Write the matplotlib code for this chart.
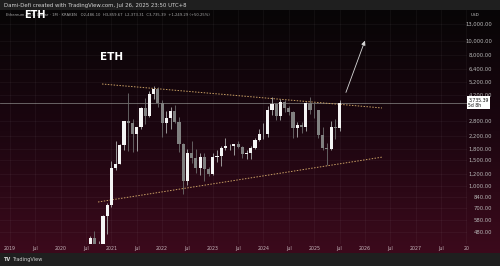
import numpy as np
import pandas as pd
import matplotlib
matplotlib.use("Agg")
import matplotlib.pyplot as plt
from matplotlib.colors import LinearSegmentedColormap
from matplotlib.ticker import NullLocator
from matplotlib.transforms import blended_transform_factory

# ETH / USD monthly candles (Kraken), Aug 2020 - Jul 2025
months = pd.period_range("2020-08", "2025-07", freq="M")
opens = [345, 434, 360, 386, 614, 737, 1314, 1416, 1918, 2773, 2707, 2275,
         2536, 3433, 3001, 4288, 4631, 3682, 2688, 2921, 3282, 2727, 1942, 1067,
         1678, 1553, 1328, 1572, 1295, 1196, 1585, 1605, 1821, 1870, 1874, 1934,
         1856, 1645, 1671, 1815, 2052, 2282, 2283, 3340, 3647, 3014, 3760, 3433,
         3232, 2513, 2602, 2518, 3705, 3332, 3300, 2237, 1822, 1794, 2528, 2486.10]
highs = [446, 488, 415, 622, 755, 1475, 2041, 1947, 2798, 4380, 2890, 2550,
         3470, 4027, 4460, 4870, 4780, 3900, 3280, 3480, 3580, 2960, 1970, 1785,
         2030, 1790, 1665, 1680, 1350, 1680, 1745, 1860, 2140, 1930, 1930, 2030,
         1870, 1750, 1865, 2130, 2440, 2715, 3520, 4090, 3730, 3975, 3890, 3560,
         3275, 2730, 2725, 3750, 4110, 3745, 3310, 2550, 1955, 2790, 2880, 3859.67]
lows = [345, 308, 335, 373, 467, 715, 1281, 1410, 1763, 1730, 1700, 1720,
        2450, 2650, 2970, 3980, 3500, 2160, 2300, 2450, 2700, 1700, 880, 1005,
        1420, 1220, 1190, 1075, 1160, 1190, 1460, 1370, 1760, 1760, 1625, 1825,
        1550, 1530, 1520, 1775, 2040, 2100, 2170, 3060, 2815, 2815, 3240, 3080,
        2120, 2150, 2310, 2360, 3100, 2920, 2120, 1760, 1385, 1750, 2110, 2373.31]
closes = [434, 360, 386, 614, 737, 1314, 1416, 1918, 2773, 2707, 2275, 2536,
          3433, 3001, 4288, 4631, 3682, 2688, 2921, 3282, 2727, 1942, 1067, 1678,
          1553, 1328, 1572, 1295, 1196, 1585, 1605, 1821, 1870, 1874, 1934, 1856,
          1645, 1671, 1815, 2052, 2282, 2283, 3340, 3647, 3014, 3760, 3433, 3232,
          2513, 2602, 2518, 3705, 3332, 3300, 2237, 1822, 1794, 2528, 2486.10, 3735.39]

# trendlines (year, price) and projection arrow
upper_line = ([2020.815, 2026.337], [5015, 3428])
lower_line = ([2020.736, 2026.357], [770, 1574])
arrow_from = (2025.607, 4210)
arrow_to = (2026.02, 10400)
last_price = 3735.39

price_ticks = [13000, 10000, 8000, 6400, 5200, 4200, 2800, 2200, 1800, 1500,
               1200, 1000, 840, 700, 580, 480]
time_ticks = [2019, 2019.5, 2020, 2020.5, 2021, 2021.5, 2022, 2022.5, 2023,
              2023.5, 2024, 2024.5, 2025, 2025.5, 2026, 2026.5, 2027, 2027.5, 2028]
time_labels = ["2019", "Jul", "2020", "Jul", "2021", "Jul", "2022", "Jul", "2023",
               "Jul", "2024", "Jul", "2025", "Jul", "2026", "Jul", "2027", "Jul", "20"]

W, H = 500, 266


def rect(x0, y0, x1, y1):
    return [x0 / W, 1 - y1 / H, (x1 - x0) / W, (y1 - y0) / H]


fig = plt.figure(figsize=(5, 2.66), dpi=100)
fig.patch.set_facecolor("#1f1f1f")

# background gradient
bg = fig.add_axes(rect(0, 10, 500, 253))
cmap = LinearSegmentedColormap.from_list("bg", ["#070506", "#1c0610", "#3c0a1c"])
grad = np.linspace(0, 1, 256).reshape(-1, 1)
bg.imshow(grad, aspect="auto", cmap=cmap, extent=[0, 1, 0, 1])
bg.axis("off")

ax = fig.add_axes(rect(0, 10, 467, 244))
ax.set_facecolor("none")
ax.set_yscale("log")
ax.set_xlim(2018.803, 2028.014)
ax.set_ylim(395.3, 16240)
for s in ax.spines.values():
    s.set_visible(False)

ax.set_xticks(time_ticks, time_labels)
ax.set_yticks(price_ticks, [f"{p:,.2f}" for p in price_ticks])
ax.yaxis.set_minor_locator(NullLocator())
ax.yaxis.tick_right()
ax.tick_params(axis="x", length=0, pad=1.2, labelsize=3.4, labelcolor="#c4b4ba")
ax.tick_params(axis="y", length=0, pad=18, labelsize=3.8, labelcolor="#b8b8b8")
for lbl in ax.get_yticklabels():
    lbl.set_horizontalalignment("right")
ax.grid(True, color="#ffffff", alpha=0.06, lw=0.5)

# candles
x = np.array([m.year + (m.month - 1) / 12 for m in months])
o = np.array(opens, dtype=float)
c = np.array(closes, dtype=float)
hi = np.array(highs, dtype=float)
lo = np.array(lows, dtype=float)
up = c >= o
colors = np.where(up, "#f4f4f4", "#808080")
wick_colors = np.where(up, "#b0b0b0", "#6e6e6e")
ax.vlines(x, lo, hi, colors=wick_colors, lw=0.6, zorder=3)
ax.bar(x, np.abs(c - o), bottom=np.minimum(o, c), width=0.062,
       color=colors, zorder=4, linewidth=0)

# trendlines
ax.plot(*upper_line, ls=(0, (1.5, 1.5)), color="#c9a064", lw=0.7, zorder=2)
ax.plot(*lower_line, ls=(0, (1.5, 1.5)), color="#c9a064", lw=0.7, zorder=2)

# current price line and label
ax.axhline(last_price, color="#8c8c8c", lw=0.6, alpha=0.8, zorder=1)
tr = blended_transform_factory(ax.transAxes, ax.transData)
ax.text(1.003, last_price, f"{last_price:,.2f}\n5d 8h", transform=tr,
        ha="left", va="center", fontsize=3.3, color="#111111", linespacing=1.1,
        bbox=dict(boxstyle="square,pad=0.3", fc="white", ec="none"),
        clip_on=False, zorder=6)

# projection arrow
ax.annotate("", xy=arrow_to, xytext=arrow_from,
            arrowprops=dict(arrowstyle="-|>,head_length=0.25,head_width=0.12",
                            color="#d8d8d8", lw=0.6), zorder=5)

ax.text(2020.78, 7700, "ETH", color="white", fontsize=7.5, fontweight="bold",
        va="center", ha="left")

# header / legend / footer texts
fig.text(4 / W, 1 - 5 / H, "Dami-Defi created with TradingView.com, Jul 26, 2025 23:50 UTC+8",
         fontsize=3.9, color="#d4d4d4", va="center", ha="left")
fig.text(6 / W, 1 - 15 / H,
         "Ethereum / U.S. Dollar \u00b7 1M \u00b7 KRAKEN   O2,486.10  H3,859.67  L2,373.31  "
         "C3,735.39  +1,249.29 (+50.25%)",
         fontsize=2.7, color="#a8a8a8", va="center", ha="left")
# the big "ETH" tag sits on top of the legend line, as in the screenshot
fig.text(24 / W, 1 - 15 / H, "ETH", fontsize=7, fontweight="bold",
         color="white", va="center", ha="left")
fig.text(471 / W, 1 - 15 / H, "USD", fontsize=3, color="#c8c8c8",
         va="center", ha="left")
fig.text(4 / W, 1 - 259.5 / H, "TV", fontsize=3.6, fontweight="bold",
         color="#d8d8d8", va="center", ha="left")
fig.text(12 / W, 1 - 259.5 / H, "TradingView", fontsize=3.6,
         color="#d0d0d0", va="center", ha="left")

fig.savefig("out.png", dpi=100, facecolor=fig.get_facecolor())
